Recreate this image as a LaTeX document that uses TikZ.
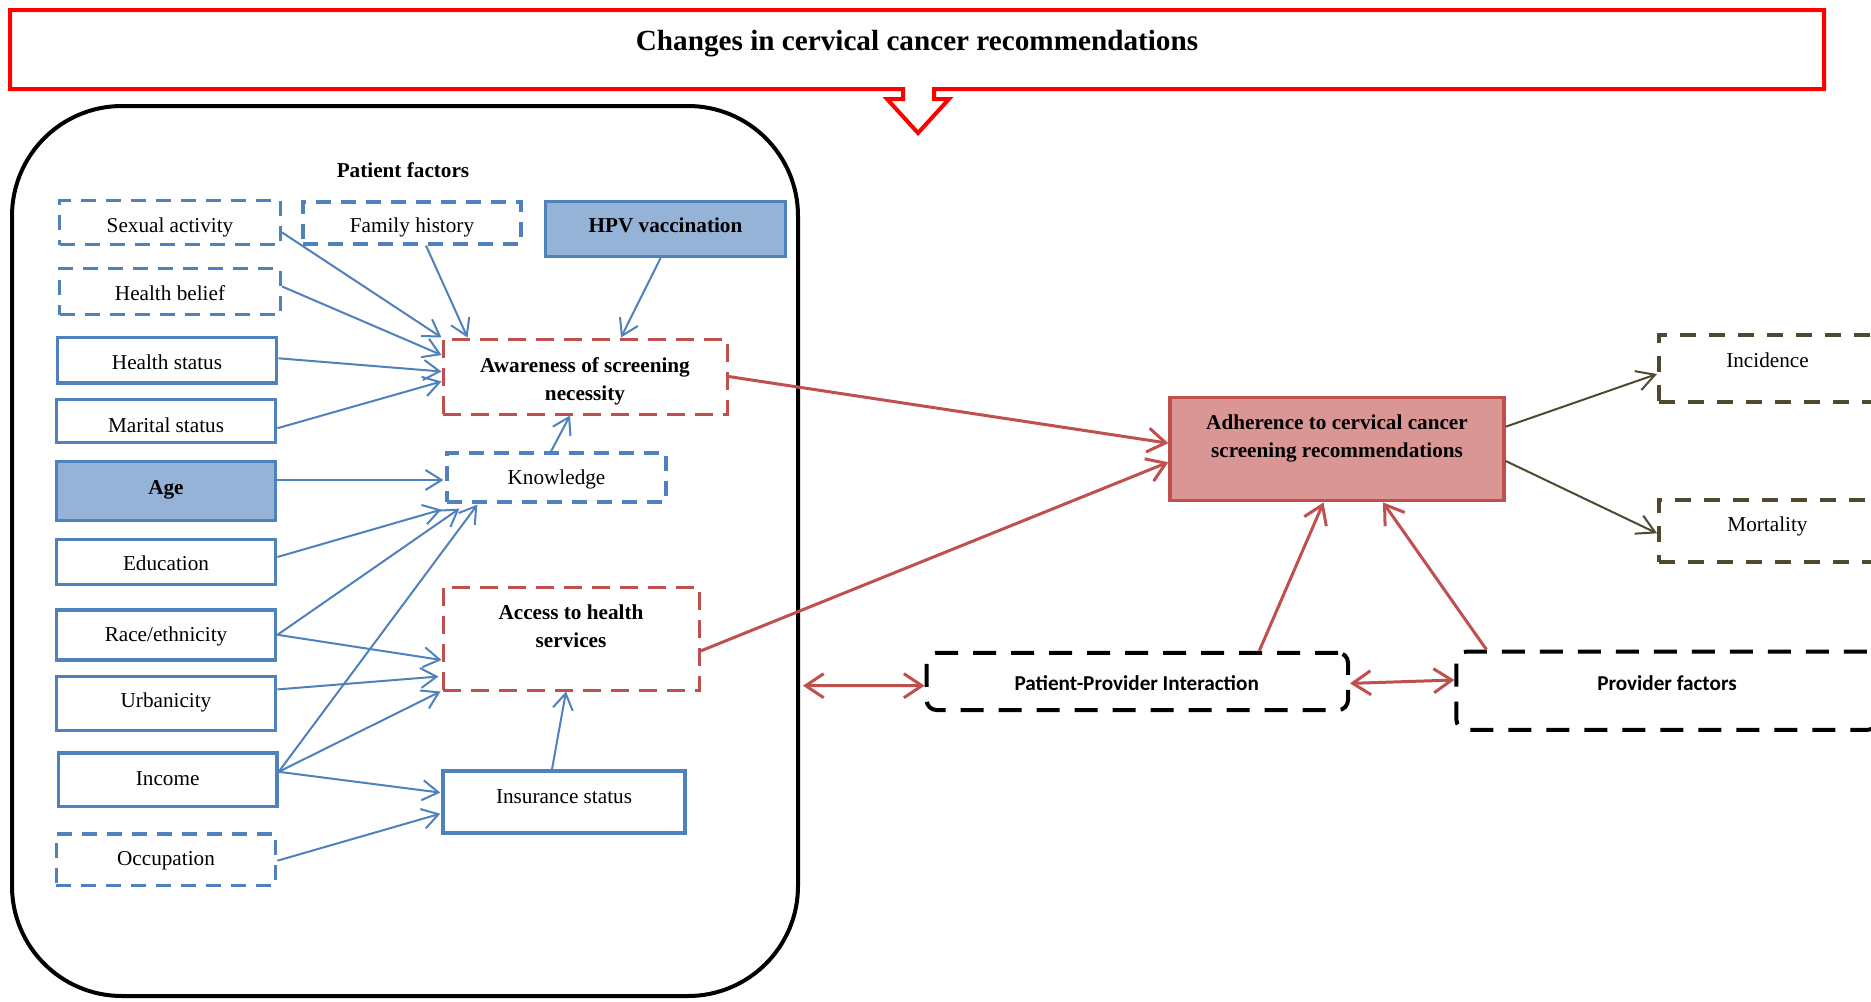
\documentclass[tikz,border=0pt]{standalone}
\usepackage{fontspec}
\setmainfont{Liberation Serif}
\newfontfamily\calfont{Carlito}
\usetikzlibrary{arrows.meta}
\definecolor{bl}{RGB}{79,129,189}
\definecolor{bf}{RGB}{149,179,215}
\definecolor{rl}{RGB}{192,80,77}
\definecolor{rf}{RGB}{217,150,148}
\definecolor{ol}{RGB}{79,73,47}
\definecolor{tred}{RGB}{255,0,0}
\newcommand{\lowr}[2]{\raisebox{-#1}[\height][\depth]{#2}}
\begin{document}
\begin{tikzpicture}[x=0.5pt,y=-0.5pt,
  txt/.style={font=\fontsize{10.6}{14}\selectfont, align=center, inner sep=0pt},
  btxt/.style={font=\fontsize{10.6}{14}\selectfont\bfseries, align=center, inner sep=0pt},
  wh/.style 2 args={minimum width=#1*0.5pt, minimum height=#2*0.5pt},
  bsolid/.style={txt, rectangle, draw=bl, line width=1.7pt},
  bdash/.style={txt, rectangle, draw=bl, line width=1.6pt, dash pattern=on 7.5pt off 5pt},
  bfilled/.style={btxt, rectangle, draw=bl, fill=bf, line width=1.7pt},
  rdash/.style={btxt, rectangle, draw=rl, line width=1.5pt, dash pattern=on 9pt off 5pt},
  rfilled/.style={btxt, rectangle, draw=rl, fill=rf, line width=1.7pt},
  odash/.style={txt, rectangle, draw=ol, line width=2pt, dash pattern=on 8pt off 6.5pt},
  kdash/.style={rectangle, draw=black, line width=2pt, rounded corners=5pt, dash pattern=on 11.5pt off 7.5pt, inner sep=0pt},
  ctxt/.style={font=\fontsize{10.6}{14}\selectfont\calfont\bfseries, inner sep=0pt},
  barr/.style={draw=bl, line width=1pt, -{Straight Barb[length=8pt,width=10pt]}},
  rarr/.style={draw=rl, line width=1.5pt, -{Straight Barb[length=9pt,width=12pt]}},
  rdbl/.style={draw=rl, line width=1.5pt, {Straight Barb[length=9pt,width=12pt]}-{Straight Barb[length=9pt,width=12pt]}},
  oarr/.style={draw=ol, line width=1pt, -{Straight Barb[length=9pt,width=10pt]}}
]
\clip (0,0) rectangle (1871,1001);
\fill[white] (0,0) rectangle (1871,1001);

% title frame with block arrow
\draw[tred, line width=2pt, miter limit=10]
  (10,89) -- (10,10) -- (1824,10) -- (1824,89) -- (934,89) -- (934,99) -- (949,99)
  -- (918,133) -- (887,99) -- (903,99) -- (903,89) -- cycle;
\node[font=\fontsize{14.6}{17}\selectfont\bfseries, inner sep=0pt] (title) at (917,43.6)
  {Changes in cervical cancer recommendations};

% patient factors frame
\node[rectangle, draw=black, line width=2pt, rounded corners=55pt, wh={786}{890}] (pf) at (405,551) {};
\node[btxt] (pfT) at (403,170) {Patient factors};

% left column
\node[bdash, wh={221}{44}] (sex) at (170,222.5) {\lowr{2.4pt}{Sexual activity}};
\node[bdash, wh={218}{42}] (fam) at (412,223) {\lowr{2.4pt}{Family history}};
\node[bfilled, wh={240}{55}] (hpv) at (665.5,229) {\lowr{-1.8pt}{HPV vaccination}};
\node[bdash, wh={221}{46.5}] (bel) at (170,291.5) {\lowr{0.6pt}{Health belief}};
\node[bsolid, wh={219.5}{45.5}] (hst) at (167,360.3) {\lowr{1.2pt}{Health status}};
\node[bsolid, wh={219.5}{43}] (mar) at (166,421.2) {\lowr{1.8pt}{Marital status}};
\node[bfilled, wh={219.5}{58.5}] (age) at (166,491) {\lowr{-0.6pt}{Age}};
\node[bsolid, wh={219.5}{45.5}] (edu) at (166,562) {\lowr{0.6pt}{Education}};
\node[bsolid, wh={219.5}{50}] (race) at (166,634.8) {\lowr{0.6pt}{Race/ethnicity}};
\node[bsolid, wh={219.5}{53.7}] (urb) at (166,703.4) {\lowr{-0.6pt}{Urbanicity}};
\node[bsolid, wh={218.5}{53.7}] (inc) at (167.7,779.8) {\lowr{-0.6pt}{Income}};
\node[bdash, wh={219.5}{51.5}] (occ) at (166,859.7) {\lowr{0.6pt}{Occupation}};

% middle column
\node[rdash, wh={284}{75}] (aw) at (585,376.5) {};
\node[btxt] (awT) at (585,381.5) {Awareness of screening\\necessity};
\node[bdash, wh={219}{49}] (kn) at (556.5,477.5) {\lowr{1.2pt}{Knowledge}};
\node[rdash, wh={256}{103}] (acc) at (571,638.5) {};
\node[btxt] (accT) at (571,626.5) {Access to health\\services};
\node[bsolid, wh={242}{62}] (ins) at (564,802) {};
\node[txt] (insT) at (564,796.8) {Insurance status};

% right side
\node[rfilled, wh={334}{103}] (adh) at (1337,449.2) {};
\node[btxt] (adhT) at (1337,438.5) {Adherence to cervical cancer\\screening recommendations};
\node[odash, wh={217}{66.7}] (incd) at (1767.5,368.3) {};
\node[txt] (incdT) at (1767.5,360.7) {Incidence};
\node[odash, wh={217}{61.7}] (mort) at (1767.5,530.9) {};
\node[txt] (mortT) at (1767.5,526.5) {Mortality};
\node[kdash, wh={421.4}{57.3}] (ppi) at (1137.3,681.4) {};
\node[ctxt] (ppiT) at (1136.7,682.7) {Patient-Provider Interaction};
\node[kdash, wh={420.5}{78.3}] (prov) at (1666.7,690.8) {};
\node[ctxt] (provT) at (1667,682.7) {Provider factors};

% blue arrows
\draw[barr] ([yshift=-5pt]sex.east) -- (aw.north west);
\draw[barr] ([xshift=7pt]fam.south) -- ([xshift=13pt]aw.north west);
\draw[barr] ([xshift=-2.5pt]hpv.south) -- ([xshift=18pt]aw.north);
\draw[barr] ([yshift=2.5pt]bel.east) -- ([yshift=10.75pt]aw.west);
\draw[barr] ([yshift=1pt]hst.east) -- ([yshift=2.5pt]aw.west);
\draw[barr] ([yshift=-3.5pt]mar.east) -- ([yshift=-2.5pt]aw.west);
\draw[barr] ([xshift=-2.75pt]kn.north) -- ([xshift=-7.5pt]aw.south);
\draw[barr] ([yshift=5.5pt]age.east) -- ([xshift=-1pt,yshift=-1.25pt]kn.west);
\draw[barr] ([yshift=2.5pt]edu.east) -- ([xshift=-2pt,yshift=-3pt]kn.south west);
\draw[barr] (race.east) -- ([xshift=7pt,yshift=-2.5pt]kn.south west);
\draw[barr] ([yshift=4pt]inc.east) -- ([xshift=16pt,yshift=-0.5pt]kn.south west);
\draw[barr] (race.east) -- ([yshift=-10.75pt]acc.west);
\draw[barr] ([yshift=7pt]urb.east) -- ([xshift=-1.5pt,yshift=-19pt]acc.west);
\draw[barr] ([yshift=4pt]inc.east) -- ([xshift=-0.5pt]acc.south west);
\draw[barr] ([yshift=4pt]inc.east) -- ([xshift=-0.5pt,yshift=4.7pt]ins.west);
\draw[barr] ([yshift=-0.5pt]occ.east) -- ([xshift=-0.5pt,yshift=-5.85pt]ins.west);
\draw[barr] ([xshift=-6pt]ins.north) -- ([xshift=-2.5pt]acc.south);

% red arrows
\draw[rarr] (aw.east) -- ([yshift=3pt]adh.west);
\draw[rarr] ([yshift=-6.25pt]acc.east) -- ([yshift=-6.5pt]adh.west);
\draw[rarr] ([xshift=61pt]ppi.north) -- ([xshift=-6.75pt]adh.south);
\draw[rarr] ([xshift=16pt]prov.north west) -- ([xshift=23pt]adh.south);
\draw[rdbl] ([xshift=1.5pt,yshift=-67.35pt]pf.east) -- ([yshift=-2.15pt]ppi.west);
\draw[rdbl] ([yshift=-1pt]ppi.east) -- ([yshift=5.4pt]prov.west);

% olive arrows
\draw[oarr] ([yshift=11.25pt]adh.east) -- ([yshift=-2.85pt]incd.west);
\draw[oarr] ([yshift=-5.9pt]adh.east) -- ([yshift=-1.2pt]mort.west);
\end{tikzpicture}
\end{document}
